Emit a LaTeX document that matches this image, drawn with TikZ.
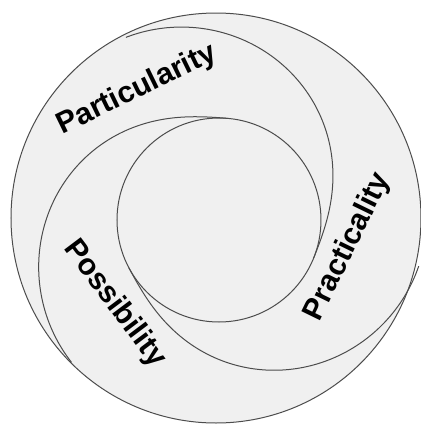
\documentclass[tikz,border=0pt]{standalone}
\usepackage{fontspec}
\usepackage{tikz}
\newfontfamily\lblfont{Liberation Sans}
\tikzstyle{ring}=[draw=black!70,line width=0.5pt,circle,inner sep=0pt]
\tikzstyle{swirl}=[draw=black!70,line width=0.5pt]
\tikzstyle{every node}=[font=\lblfont\bfseries\fontsize{15}{18}\selectfont]

\begin{document}
\begin{tikzpicture}[x=0.5pt,y=0.5pt]
            \useasboundingbox (-216,-207) rectangle (205,218);
            \node[ring, fill=black!6, minimum size=205pt] (outer) at (0,0) {};
            \node[ring, minimum size=102pt] (inner) at (3,-2) {};
            \draw[swirl, shift={(inner.center)}] plot[domain=0:139, samples=60, smooth] ({117-\x}:{102+103*(1-\x/139)^2*(1+1.5*\x/139)});
            \draw[swirl, shift={(inner.center)}] plot[domain=0:139, samples=60, smooth] ({224-\x}:{102+103*(1-\x/139)^2*(1+1.5*\x/139)});
            \draw[swirl, shift={(inner.center)}] plot[domain=0:139, samples=60, smooth] ({347-\x}:{102+103*(1-\x/139)^2*(1+1.5*\x/139)});
            \node[rotate=26] (particularity) at (-79,128) {Particularity};
            \node[rotate=64] (practicality) at (132,-29) {Practicality};
            \node[rotate=-53] (possibility) at (-101,-86) {Possibility};
\end{tikzpicture}
\end{document}
